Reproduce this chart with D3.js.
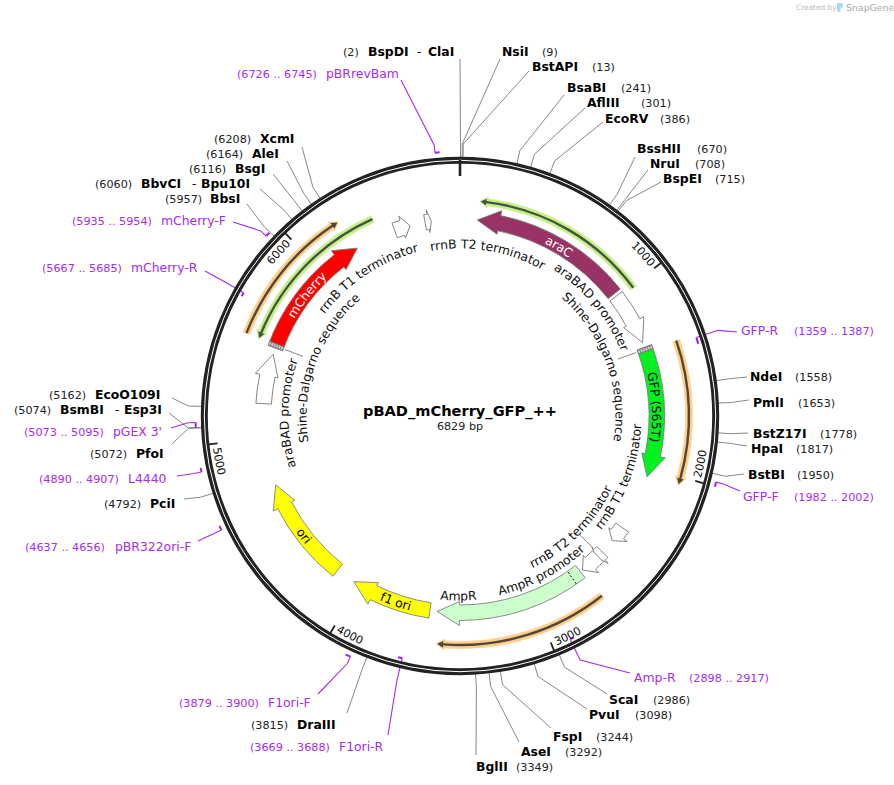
<!DOCTYPE html>
<html><head><meta charset="utf-8">
<script src="https://cdn.jsdelivr.net/npm/d3@7/dist/d3.min.js"></script>
<style>html,body{margin:0;padding:0;background:#fff}svg{display:block}text{font-family:"DejaVu Sans",sans-serif}</style>
</head><body><div id="chart"></div>
<script>
const plasmidName = "pBAD_mCherry_GFP_++";
const plasmidLength = 6829;
const tickPositions = [1000, 2000, 3000, 4000, 5000, 6000];

const enzymeNames = ["BspDI - ClaI","NsiI","BstAPI","BsaBI","AflIII","EcoRV","BssHII","NruI","BspEI","NdeI","PmlI","BstZ17I","HpaI","BstBI","ScaI","PvuI","FspI","AseI","BglII","DraIII","PciI","PfoI","BsmBI - Esp3I","EcoO109I","BbsI","BbvCI - Bpu10I","BsgI","AleI","XcmI"];
const enzymeSites = [2,9,13,241,301,386,670,708,715,1558,1653,1778,1817,1950,2986,3098,3244,3292,3349,3815,4792,5072,5074,5162,5957,6060,6116,6164,6208];

const primerNames = ["GFP-R","GFP-F","Amp-R","F1ori-R","F1ori-F","pBR322ori-F","L4440","pGEX 3'","mCherry-R","mCherry-F","pBRrevBam"];
const primerStarts = [1359,1982,2898,3669,3879,4637,4890,5073,5667,5935,6726];
const primerEnds = [1387,2002,2917,3688,3900,4656,4907,5095,5685,5954,6745];
const primerStrands = [-1,1,-1,-1,1,1,1,1,-1,1,1];

const featureNames = ["araC","GFP (S65T)","AmpR","f1 ori","ori","mCherry"];
const featureStarts = [95,1320,2699,3581,4143,5505];
const featureEnds = [979,2049,3541,4033,4733,6233];
const featureStrands = [-1,1,1,1,1,1];
const featureFills = ["#993366","#00f020","#ccffcc","#ffff00","#ffff00","#ff0000"];
const featureLabelPositions = [575,1658,null,3776,4410,5849];

const openNames = ["araBAD promoter","rrnB T1 terminator","rrnB T2 terminator","AmpR promoter","araBAD promoter","rrnB T1 terminator","rrnB T2 terminator"];
const openStarts = [996,2362,2536,2570,5190,6461,6635];
const openEnds = [1292,2453,2580,2684,5469,6550,6670];

const strandStarts = [100,1343,2688,5524,5520];
const strandEnds = [1015,2041,3528,6220,6374];
const strandDirs = [-1,1,1,1,-1];
const strandKinds = ["green","orange","orange","orange","green"];

const sdPositions = [1320,5505];
const signalPositions = [2756];

const innerLabels = ["rrnB T2 terminator","araBAD promoter","Shine-Dalgarno sequence","rrnB T1 terminator","rrnB T2 terminator","AmpR promoter","AmpR","araBAD promoter","Shine-Dalgarno sequence","rrnB T1 terminator"];
const innerLabelCentres = [184,956,1326,2102,2561,2889,3424,5139,5501,6192];

// ----- layout (not data) -----
const W = 894, H = 785, cx = 460, cy = 416;
// [nameX, siteX, baseline, endX, endY, dashX, secondX]
const enzymeLayout = [
[368,343,56,460,59,417,428],[502,542,56,500,59],[532,592,71,529,71],[567,621,92,564,95],[587,641,107,585,108],[605,660,123,603,122],
[637,697,153,635,157],[650,695,168,648,170],[663,715,183,661,182],[750,795,381,747,377],[753,798,407,749,400],[753,820,438,748,433],
[751,796,453,747,446],[748,797,479,744,474],[609,653,704,607,694],[589,635,719,587,709],[553,596,741,551,728],[521,565,756,519,742],
[476,516,771,476,755],[297,251,729,347,713],[150,104,508,184,499],[136,90,458,172,444],[60,14,414,169,413,115,124],[95,49,399,172,398],
[210,165,203,247,204],[141,95,188,260,189,192,201],[235,189,173,273,174],[252,206,158,287,161],[260,214,143,302,147]];
// [nameX, siteX, baseline, endX, endY, attachAtEnd]
const primerLayout = [
[741,794,335,737,332,0],[743,794,501,740,491,0],[634,689,682,630,673,1],[339,250,751,388,735,0],[268,179,707,318,694,0],
[115,25,551,198,541,0],[128,39,483,177,476,0],[113,24,436,171,428,1],[131,42,272,205,271,1],[161,72,225,233,222,0],[326,237,78,401,80,0]];
const innerLabelLayout = [[172,1],[178,1],[160,1],[177,-1],[164,-1],[179,-1],[180,-1],[176,1],[158,1],[174,1]];

const angleDeg = d3.scaleLinear().domain([0, plasmidLength]).range([0, 360]);
const rad = a => (a - 90) * Math.PI / 180;
const polar = (a, r) => [cx + r * Math.cos(rad(a)), cy + r * Math.sin(rad(a))];

const svg = d3.select("#chart").append("svg").attr("width", W).attr("height", H).attr("viewBox", `0 0 ${W} ${H}`);
const defs = svg.append("defs");
const gLeaders = svg.append("g"), gRing = svg.append("g"), gFeatures = svg.append("g"), gText = svg.append("g");
let uid = 0;

function arcText(g, str, centre, r, dir, size, attrs) {
  const base = dir > 0 ? r - 0.36 * size : r + 0.36 * size;
  const span = 85;
  const a0 = centre - dir * span, a1 = centre + dir * span;
  const p = d3.path();
  p.moveTo(...polar(a0, base));
  p.arc(cx, cy, base, rad(a0), rad(a1), dir < 0);
  const id = "tp" + (uid++);
  defs.append("path").attr("id", id).attr("d", p.toString());
  const t = g.append("text").attr("font-size", size).attr("fill", attrs && attrs.fill || "#111");
  t.append("textPath").attr("href", "#" + id).attr("startOffset", "50%").attr("text-anchor", "middle").text(str);
  return t;
}

function arrowPath(a0, a1, rIn, rOut, head, wIn, wOut) {
  const dir = a1 > a0 ? 1 : -1;
  const base = a1 - dir * head, rMid = (rIn + rOut) / 2;
  const p = d3.path();
  p.moveTo(...polar(a0, rOut));
  p.arc(cx, cy, rOut, rad(a0), rad(base), dir < 0);
  p.lineTo(...polar(base, wOut));
  p.lineTo(...polar(a1, rMid));
  p.lineTo(...polar(base, wIn));
  p.lineTo(...polar(base, rIn));
  p.arc(cx, cy, rIn, rad(base), rad(a0), dir > 0);
  p.closePath();
  return p.toString();
}

// --- leaders
const elbowR = 272;
enzymeNames.forEach((n, i) => {
  const a = angleDeg(enzymeSites[i]), L = enzymeLayout[i];
  const pts = [polar(a, 256), polar(a, elbowR), [L[3], L[4]]];
  gLeaders.append("path").attr("d", d3.line()(pts)).attr("fill", "none").attr("stroke", "#888").attr("stroke-width", 1);
});
primerNames.forEach((n, i) => {
  const L = primerLayout[i];
  const a0 = angleDeg(primerStarts[i]), a1 = angleDeg(primerEnds[i]);
  const at = L[5] ? a1 : a0;
  const mr = primerStrands[i] > 0 ? 264.5 : 249;
  gLeaders.append("path").attr("d", d3.line()([polar(at, mr), polar(at, elbowR), [L[3], L[4]]]))
    .attr("fill", "none").attr("stroke", "#a42cf2").attr("stroke-width", 1.1);
  const p = d3.path();
  p.arc(cx, cy, mr, rad(a0), rad(a1));
  gLeaders.append("path").attr("d", p.toString()).attr("fill", "none").attr("stroke", "#a020f0").attr("stroke-width", 2);
});

// --- ring
gRing.append("circle").attr("cx", cx).attr("cy", cy).attr("r", 255.7).attr("fill", "none").attr("stroke", "#222").attr("stroke-width", 7);
gRing.append("circle").attr("cx", cx).attr("cy", cy).attr("r", 255.7).attr("fill", "none").attr("stroke", "#fff").attr("stroke-width", 1);
gRing.append("path").attr("d", d3.line()([polar(0, 256), polar(0, 240)])).attr("stroke", "#222").attr("stroke-width", 2.6);
tickPositions.forEach(t => {
  const a = angleDeg(t);
  gRing.append("path").attr("d", d3.line()([polar(a, 253), polar(a, 244)])).attr("stroke", "#222").attr("stroke-width", 1.8);
  arcText(gRing, String(t), a - 4.2, 245, (a > 90 && a < 300) ? -1 : 1, 11.2);
});

// --- thin strands
const strandStyle = { orange: ["#fdcf8a", "#524636"], green: ["#c4f08c", "#46543a"] };
strandStarts.forEach((s, i) => {
  const dir = strandDirs[i];
  const tail = dir > 0 ? angleDeg(s) : angleDeg(strandEnds[i]);
  const tip = dir > 0 ? angleDeg(strandEnds[i]) : angleDeg(s);
  const r = strandKinds[i] === "green" ? 215.5 : 229;
  const st = strandStyle[strandKinds[i]];
  gFeatures.append("path").attr("d", arrowPath(tail, tip, r - 3.6, r + 3.6, 2.1, r - 5.5, r + 5.5))
    .attr("fill", st[0]).attr("stroke", st[0]).attr("stroke-width", 0.6);
  gFeatures.append("path").attr("d", arrowPath(tail, tip - dir * 0.25, r - 1.2, r + 1.2, 1.5, r - 3.4, r + 3.4))
    .attr("fill", st[1]);
});

// --- open arrows
openNames.forEach((n, i) => {
  const a0 = angleDeg(openStarts[i]), a1 = angleDeg(openEnds[i]);
  const head = Math.min(6.5, (a1 - a0) * 0.5);
  gFeatures.append("path").attr("d", arrowPath(a0, a1, 189, 204.5, head, 186, 209))
    .attr("fill", "#fff").attr("stroke", "#777").attr("stroke-width", 0.9);
});

// --- filled features
featureNames.forEach((n, i) => {
  const s = angleDeg(featureStarts[i]), e = angleDeg(featureEnds[i]);
  const [tail, tip] = featureStrands[i] > 0 ? [s, e] : [e, s];
  gFeatures.append("path").attr("d", arrowPath(tail, tip, 189, 204.5, 6.5, 185.5, 209.5))
    .attr("fill", featureFills[i]).attr("stroke", "#808080").attr("stroke-width", 0.9);
  if (featureLabelPositions[i] !== null) {
    const a = angleDeg(featureLabelPositions[i]);
    arcText(gFeatures, n, a, 196.5, (a > 90 && a < 270) ? -1 : 1, 12.4, { fill: (n === "araC" || n === "mCherry") ? "#fff" : "#000" });
  }
});

// Shine-Dalgarno bands and leaders
sdPositions.forEach(pos => {
  const a = angleDeg(pos);
  const p = d3.path();
  p.moveTo(...polar(a, 204.5));
  p.arc(cx, cy, 204.5, rad(a), rad(a + 1.3));
  p.lineTo(...polar(a + 1.3, 189));
  p.arc(cx, cy, 189, rad(a + 1.3), rad(a), true);
  p.closePath();
  gFeatures.append("path").attr("d", p.toString()).attr("fill", "#8a8a8a").attr("stroke", "#777").attr("stroke-width", 0.6);
  gFeatures.append("path").attr("d", d3.line()([polar(a + 0.65, 204), polar(a + 0.65, 189.5)]))
    .attr("stroke", "#ddd").attr("stroke-width", 2.6).attr("stroke-dasharray", "1.3 1.3");
  gFeatures.append("path").attr("d", d3.line()([polar(a + 0.6, 187), polar(a + 0.6, 168)])).attr("stroke", "#888");
});
// rrnB T2 (right) leader
{
  const a = angleDeg(openStarts[2] + 20);
  gFeatures.append("path").attr("d", d3.line()([polar(a, 187), polar(a, 168)])).attr("stroke", "#888");
}
signalPositions.forEach(pos => {
  const a = angleDeg(pos);
  gFeatures.append("path").attr("d", d3.line()([polar(a, 204), polar(a, 189)])).attr("stroke", "#111").attr("stroke-dasharray", "2 2").attr("stroke-width", 1);
});

// --- inner labels
innerLabels.forEach((n, i) => {
  const L = innerLabelLayout[i];
  arcText(gText, n, angleDeg(innerLabelCentres[i]), L[0], L[1], 12.4);
});

// --- outer labels
function label(x, y, str, size, weight, fill) {
  gText.append("text").attr("x", x).attr("y", y).attr("font-size", size).attr("font-weight", weight).attr("fill", fill).text(str);
}
enzymeNames.forEach((n, i) => {
  const L = enzymeLayout[i], parts = n.split(" - ");
  label(L[0], L[2], parts[0], 12.4, "bold", "#000");
  if (parts[1]) { label(L[5], L[2], "-", 12.4, "normal", "#000"); label(L[6], L[2], parts[1], 12.4, "bold", "#000"); }
  label(L[1], L[2], `(${enzymeSites[i]})`, 11.2, "normal", "#222");
});
primerNames.forEach((n, i) => {
  const L = primerLayout[i];
  label(L[0], L[2], n, 12.4, "normal", "#a42cf2");
  label(L[1], L[2], `(${primerStarts[i]} .. ${primerEnds[i]})`, 11.2, "normal", "#a42cf2");
});

// --- centre
gText.append("text").attr("x", cx).attr("y", 416).attr("text-anchor", "middle").attr("font-size", 14.6).attr("font-weight", "bold").attr("fill", "#000").text(plasmidName);
gText.append("text").attr("x", cx).attr("y", 430).attr("text-anchor", "middle").attr("font-size", 11.2).attr("fill", "#222").text(plasmidLength + " bp");

// --- credit
gText.append("text").attr("x", 796).attr("y", 10).attr("font-size", 7.4).attr("fill", "#bbb").text("Created by");
gText.append("path").attr("d", "M837 3h3.5q2.5 0 2.5 2.5t-2.5 2.5v4h-1.5q-2 0-2-2z").attr("fill", "#a8daf2");
gText.append("text").attr("x", 846).attr("y", 11).attr("font-size", 9.4).attr("fill", "#aaa").text("SnapGene");
</script></body></html>
